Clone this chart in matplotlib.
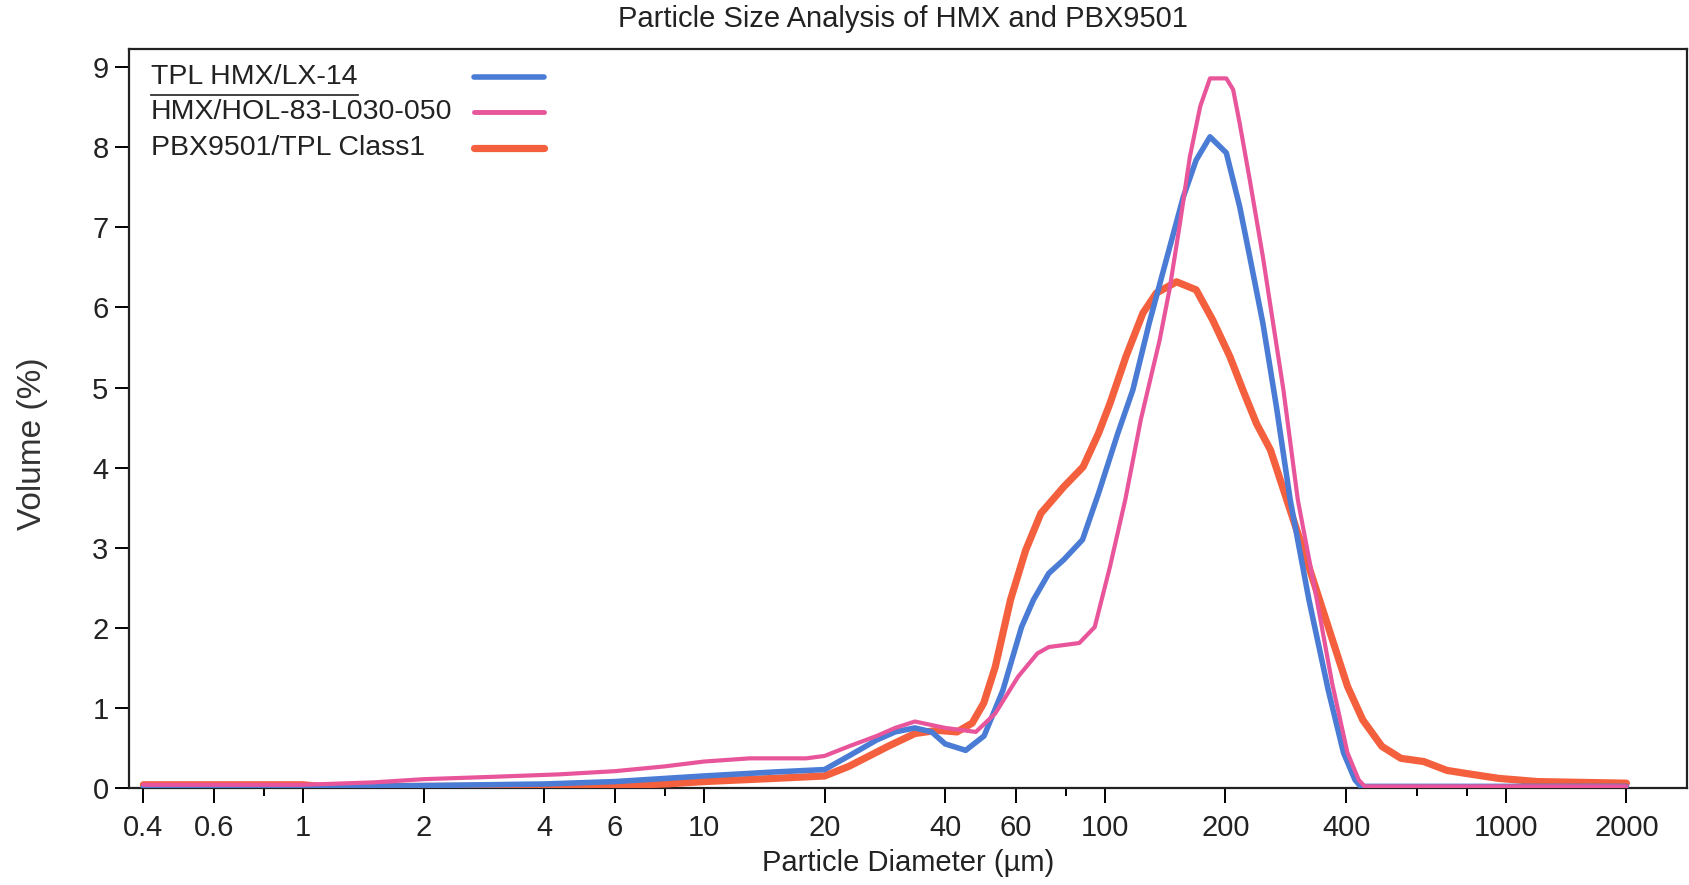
import matplotlib
matplotlib.use("Agg")
import matplotlib.pyplot as plt
from matplotlib.ticker import FixedLocator, NullFormatter

# ---- data ----
lx14_d = [0.4, 1, 2, 4, 6, 10, 15, 20, 23, 27, 30, 33.6, 37, 40, 45, 50, 55.7, 62, 66.4,
          72.5, 79, 88, 96.5, 107.8, 117.5, 129, 143, 157, 169, 183, 201, 217, 230, 248,
          268, 290, 323, 361, 394, 421, 435, 2000]
lx14_v = [0.01, 0.01, 0.03, 0.05, 0.08, 0.15, 0.2, 0.23, 0.4, 0.6, 0.7, 0.75, 0.7, 0.55,
          0.47, 0.65, 1.22, 2.01, 2.35, 2.68, 2.85, 3.1, 3.68, 4.43, 4.97, 5.8, 6.63, 7.38,
          7.84, 8.13, 7.93, 7.26, 6.63, 5.8, 4.76, 3.6, 2.35, 1.22, 0.44, 0.1, 0.02, 0.02]

hol_d = [0.4, 1, 1.5, 2, 3, 4.35, 6, 8, 10, 13, 18, 20, 23, 27, 30, 33.6, 40, 47.7, 53.3,
         60.8, 67.9, 72.5, 86.4, 94.4, 103, 112.5, 123, 137, 145, 154, 163, 173, 183, 201,
         209, 217, 230, 248, 263, 279, 303, 338, 369, 403, 430, 445, 2000]
hol_v = [0.04, 0.04, 0.07, 0.11, 0.14, 0.17, 0.21, 0.27, 0.33, 0.37, 0.37, 0.4, 0.52, 0.65,
         0.75, 0.83, 0.75, 0.70, 0.93, 1.39, 1.68, 1.76, 1.81, 2.01, 2.76, 3.6, 4.6, 5.59,
         6.22, 7.05, 7.88, 8.51, 8.86, 8.86, 8.72, 8.3, 7.59, 6.63, 5.8, 4.97, 3.6, 2.35,
         1.31, 0.44, 0.1, 0.02, 0.02]

pbx_d = [0.4, 1, 1.1, 2, 4, 6, 8, 10, 15, 20, 23, 28.8, 33.6, 38.3, 42.8, 46.7, 49.9, 53.3,
         58.2, 63.5, 69.3, 79, 88.3, 96.5, 103, 113, 124.5, 134.5, 151, 169, 186, 205, 221,
         239, 259, 290, 323, 361, 403, 440, 491, 548, 625, 713, 800, 960, 1200, 2000]
pbx_v = [0.04, 0.04, 0.02, 0.02, 0.02, 0.03, 0.05, 0.08, 0.12, 0.15, 0.27, 0.52, 0.68, 0.72,
         0.70, 0.81, 1.06, 1.51, 2.35, 2.97, 3.43, 3.76, 4.01, 4.43, 4.8, 5.39, 5.93, 6.18,
         6.32, 6.22, 5.84, 5.39, 4.97, 4.55, 4.22, 3.47, 2.76, 2.01, 1.27, 0.85, 0.52, 0.37,
         0.33, 0.22, 0.18, 0.12, 0.08, 0.06]

series_names = ["TPL HMX/LX-14", "HMX/HOL-83-L030-050", "PBX9501/TPL Class1"]
x_major = [0.4, 0.6, 1, 2, 4, 6, 10, 20, 40, 60, 100, 200, 400, 1000, 2000]
x_major_labels = ["0.4", "0.6", "1", "2", "4", "6", "10", "20", "40", "60", "100", "200",
                  "400", "1000", "2000"]
x_minor = [0.8, 8, 80, 600, 800]
y_ticks = list(range(0, 10))

colors = ["#4a7bd5", "#e8559b", "#f4603e"]
widths = [4.0, 3.0, 5.2]

plt.rcParams['font.family'] = ['Liberation Sans', 'DejaVu Sans']

fig = plt.figure(figsize=(16.9, 8.85), dpi=100)
ax = fig.add_axes([0.07653, 0.10962, 0.92156, 0.83557])

data = [(lx14_d, lx14_v), (hol_d, hol_v), (pbx_d, pbx_v)]
order = [2, 0, 1]
for i in order:
    d, v = data[i]
    ax.plot(d, v, color=colors[i], lw=widths[i], solid_joinstyle='round',
            solid_capstyle='round', zorder=3 + (1 if i == 1 else 0))

ax.set_xscale('log')
ax.set_xlim(0.369, 2829)
ax.set_ylim(0, 9.233)

ax.xaxis.set_major_locator(FixedLocator(x_major))
ax.xaxis.set_minor_locator(FixedLocator(x_minor))
ax.xaxis.set_minor_formatter(NullFormatter())
ax.set_xticklabels(x_major_labels, fontsize=21, color='#222222')
ax.set_yticks(y_ticks)
ax.set_yticklabels([str(t) for t in y_ticks], fontsize=21, color='#222222')

ax.tick_params(axis='x', which='major', direction='out', length=11, width=1.4, pad=8)
ax.tick_params(axis='x', which='minor', direction='out', length=6, width=1.4)
ax.tick_params(axis='y', which='major', direction='out', length=10, width=1.4, pad=5)

for s in ax.spines.values():
    s.set_linewidth(1.6)
    s.set_color('#222222')

ax.set_xlabel("Particle Diameter (µm)", fontsize=21, color='#222222')
ax.xaxis.set_label_coords(0.5, -0.083)
ax.set_ylabel("Volume (%)", fontsize=24, color='#333333')
ax.yaxis.set_label_coords(-0.052, 0.466)

fig.text(838 / 1568, 1 - 18 / 821, "Particle Size Analysis of HMX and PBX9501",
         ha='center', va='center', fontsize=21, color='#222222')

# legend (text on the left, line samples on the right)
leg_y = [0.961, 0.914, 0.866]
for name, c, w, yy in zip(series_names, colors, widths, leg_y):
    ax.text(0.0138, yy, name, transform=ax.transAxes, ha='left', va='center',
            fontsize=20.5, color='#222222')
    ax.plot([0.221, 0.266], [yy, yy], transform=ax.transAxes, color=c, lw=max(w, 3.5),
            solid_capstyle='round')
ax.plot([0.0138, 0.147], [0.937, 0.937], transform=ax.transAxes, color='#333333', lw=1.3)

fig.savefig("out.png", dpi=100)
